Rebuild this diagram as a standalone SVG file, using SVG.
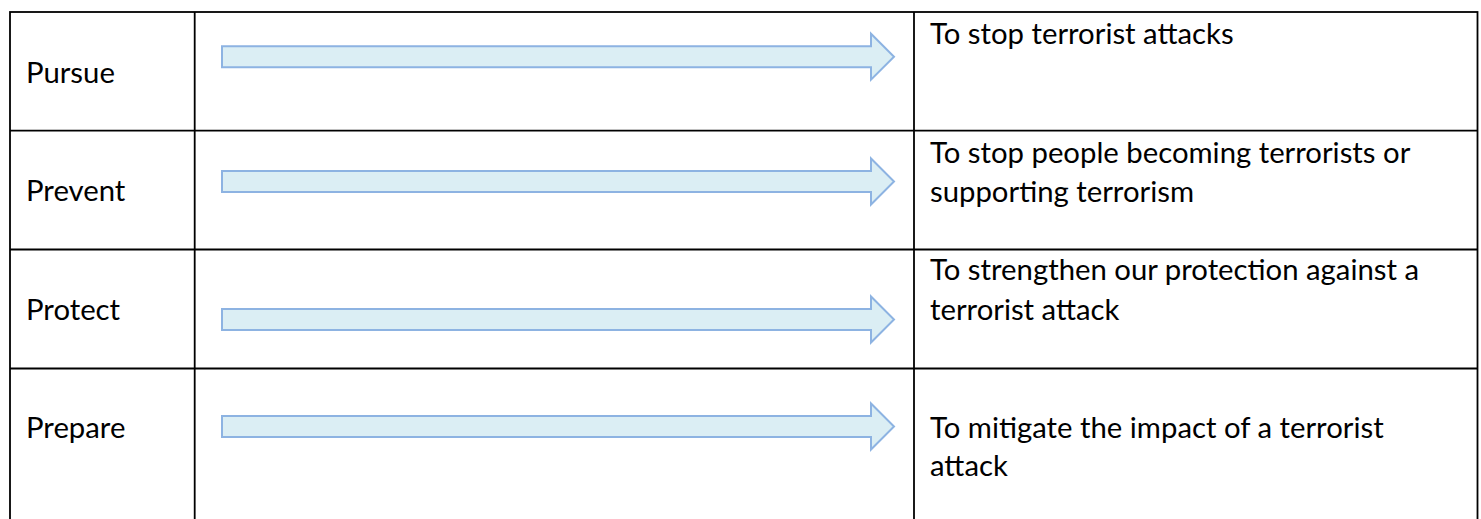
<svg xmlns="http://www.w3.org/2000/svg" width="1481" height="519" viewBox="0 0 1481 519">
  <style>
    .grid { stroke: #000; stroke-width: 1.8; fill: none; }
    .lbl { font-family: Lato, "Liberation Sans", sans-serif; font-size: 29.3px; fill: #000; }
    .arrow { fill: #DBEEF4; stroke: #8DB3E2; stroke-width: 2; stroke-linejoin: miter; }
  </style>
  <defs>
    <path id="arr" d="M222,-10.5 H871 V-23 L894,0 L871,23 V10.5 H222 Z"/>
  </defs>
  <rect width="1481" height="519" fill="#fff"/>
  <g id="table">
    <rect class="grid" x="10" y="12" width="1467.5" height="510"/>
    <line class="grid" x1="194.7" y1="12" x2="194.7" y2="522"/>
    <line class="grid" x1="914" y1="12" x2="914" y2="522"/>
    <line class="grid" x1="10" y1="130.7" x2="1477.5" y2="130.7"/>
    <line class="grid" x1="10" y1="249.5" x2="1477.5" y2="249.5"/>
    <line class="grid" x1="10" y1="368.5" x2="1477.5" y2="368.5"/>
  </g>
  <g id="row-pursue">
    <text class="lbl" x="26" y="82.5">Pursue</text>
    <text class="lbl" x="930" y="43.5">To stop terrorist attacks</text>
  </g>
  <g id="row-prevent">
    <text class="lbl" x="26" y="201">Prevent</text>
    <text class="lbl" x="930" y="162.5">To stop people becoming terrorists or</text>
    <text class="lbl" x="930" y="202">supporting terrorism</text>
  </g>
  <g id="row-protect">
    <text class="lbl" x="26" y="319.5">Protect</text>
    <text class="lbl" x="930" y="280">To strengthen our protection against a</text>
    <text class="lbl" x="930" y="320">terrorist attack</text>
  </g>
  <g id="row-prepare">
    <text class="lbl" x="26" y="437.5">Prepare</text>
    <text class="lbl" x="930" y="437.5">To mitigate the impact of a terrorist</text>
    <text class="lbl" x="930" y="476">attack</text>
  </g>
  <g id="connectors">
    <use href="#arr" class="arrow" transform="translate(0,56.7)"/>
    <use href="#arr" class="arrow" transform="translate(0,181.5)"/>
    <use href="#arr" class="arrow" transform="translate(0,319.5)"/>
    <use href="#arr" class="arrow" transform="translate(0,426.5)"/>
  </g>
</svg>
